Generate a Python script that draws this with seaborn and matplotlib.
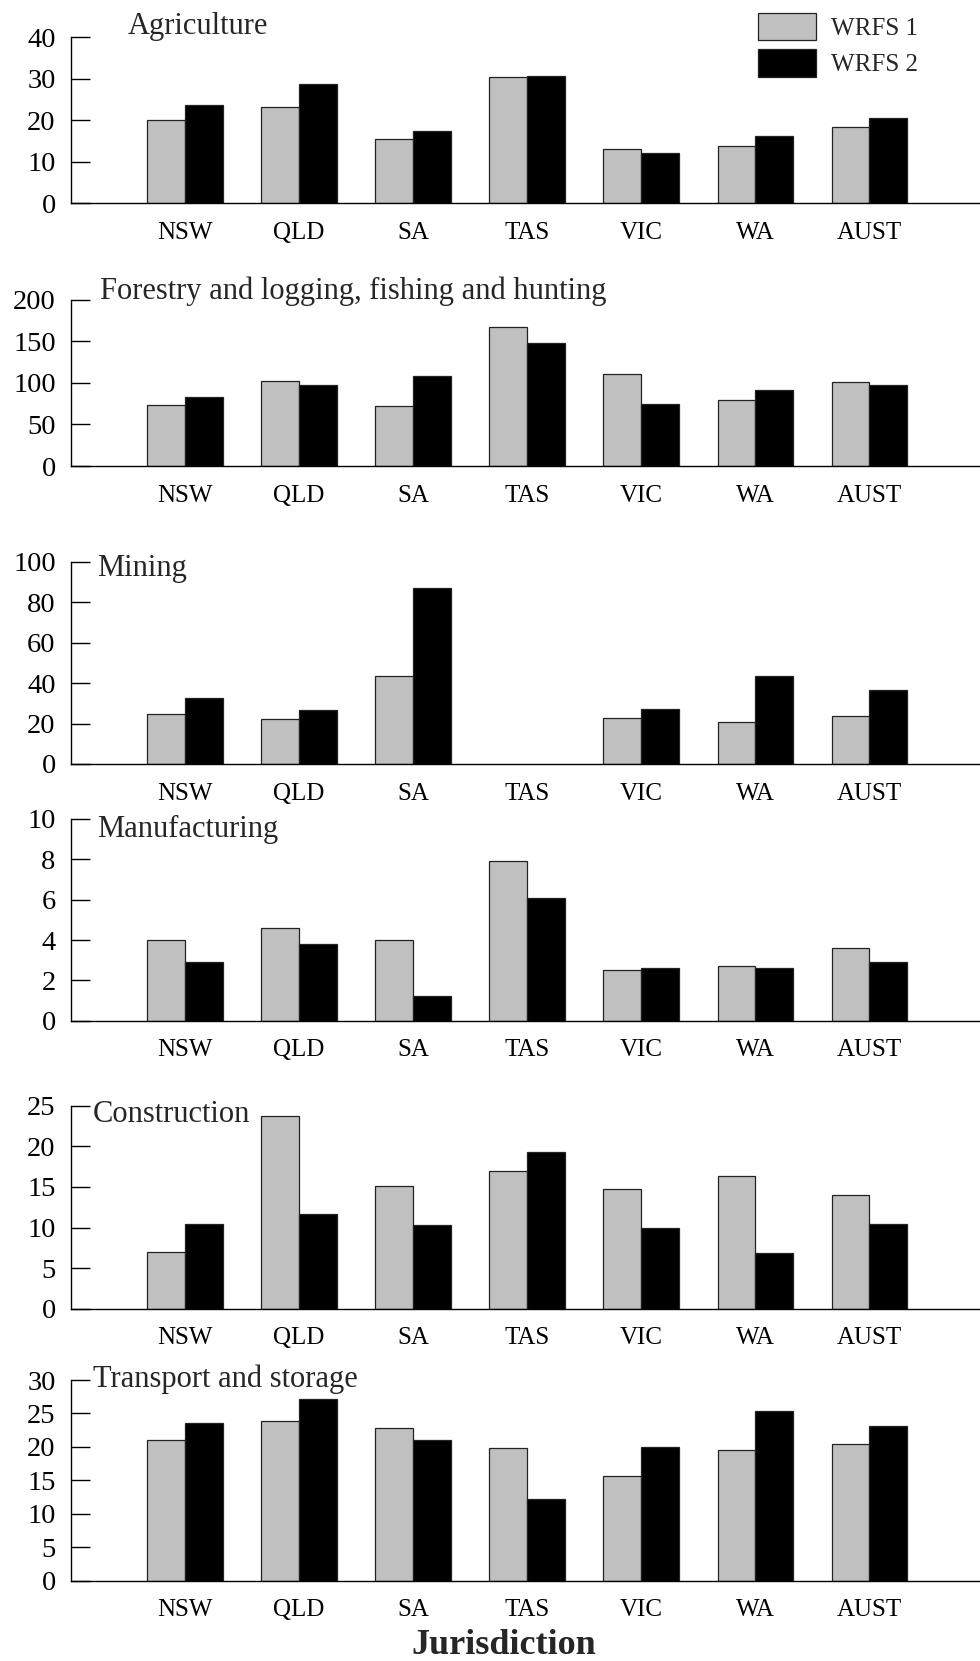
import matplotlib
matplotlib.use("Agg")
import matplotlib.pyplot as plt
import numpy as np
import pandas as pd
import seaborn as sns

# Jurisdictions along the x axis and the two survey waves
states = ["NSW", "QLD", "SA", "TAS", "VIC", "WA", "AUST"]
series = ["WRFS 1", "WRFS 2"]

# Values per industry (WRFS 1, WRFS 2), one entry per jurisdiction
agriculture_w1 = [20.0, 23.2, 15.5, 30.5, 13.0, 13.7, 18.4]
agriculture_w2 = [23.6, 28.8, 17.4, 30.6, 12.1, 16.1, 20.6]

forestry_w1 = [74.0, 103.0, 72.0, 168.0, 111.0, 80.0, 101.5]
forestry_w2 = [83.0, 98.0, 108.0, 148.5, 75.0, 92.0, 97.0]

mining_w1 = [24.6, 22.1, 43.7, np.nan, 22.8, 20.8, 23.6]
mining_w2 = [32.5, 26.6, 87.3, np.nan, 27.4, 43.6, 36.6]

manufacturing_w1 = [4.0, 4.6, 4.0, 7.9, 2.5, 2.7, 3.6]
manufacturing_w2 = [2.9, 3.8, 1.2, 6.1, 2.6, 2.6, 2.9]

construction_w1 = [7.0, 23.7, 15.1, 17.0, 14.7, 16.4, 14.0]
construction_w2 = [10.4, 11.7, 10.3, 19.3, 10.0, 6.8, 10.4]

transport_w1 = [21.0, 23.8, 22.8, 19.8, 15.7, 19.5, 20.4]
transport_w2 = [23.5, 27.1, 21.0, 12.2, 20.0, 25.4, 23.1]

titles = ["Agriculture",
          "Forestry and logging, fishing and hunting",
          "Mining",
          "Manufacturing",
          "Construction",
          "Transport and storage"]
y_max = [40, 200, 100, 10, 25, 30]
y_step = [10, 50, 20, 2, 5, 5]

panels = [
    (agriculture_w1, agriculture_w2),
    (forestry_w1, forestry_w2),
    (mining_w1, mining_w2),
    (manufacturing_w1, manufacturing_w2),
    (construction_w1, construction_w2),
    (transport_w1, transport_w2),
]

sns.set_style("ticks")
plt.rcParams["font.family"] = ["Liberation Serif", "DejaVu Serif"]

W, H = 980, 1661
fig = plt.figure(figsize=(W / 100, H / 100), dpi=100)

# Pixel extents of each panel: (top of y axis, zero line)
extents = [(37.3, 203.3), (300, 466), (562, 764),
           (819, 1020.7), (1105.7, 1308.7), (1380, 1580.7)]
# Title anchors: (left x, baseline y) in pixels
title_pos = [(128, 34), (100, 299), (97, 576),
             (97, 836.7), (92.5, 1121.7), (93, 1387.3)]

left_px = 71
palette = {"WRFS 1": "#c0c0c0", "WRFS 2": "#000000"}

for i, ((w1, w2), title) in enumerate(zip(panels, titles)):
    top, zero = extents[i]
    ax = fig.add_axes([left_px / W, 1 - zero / H,
                       (W - left_px) / W, (zero - top) / H])
    df = pd.DataFrame({
        "Jurisdiction": states * 2,
        "Value": list(w1) + list(w2),
        "Series": [series[0]] * len(states) + [series[1]] * len(states),
    })
    sns.barplot(data=df, x="Jurisdiction", y="Value", hue="Series",
                order=states, hue_order=series, palette=palette,
                width=0.663, edgecolor="#222222", linewidth=0.9,
                errorbar=None, legend=(i == 0), ax=ax)
    ax.set_xlim(-1.0, 6.97)
    ax.set_ylim(0, y_max[i])
    ax.set_yticks(np.arange(0, y_max[i] + 0.001, y_step[i]))
    ax.set_yticklabels([f"{int(v)}" for v in ax.get_yticks()])
    ax.set_xlabel("")
    ax.set_ylabel("")
    for s in ["top", "right"]:
        ax.spines[s].set_visible(False)
    for s in ["left", "bottom"]:
        ax.spines[s].set_linewidth(1.0)
        ax.spines[s].set_color("black")
    ax.tick_params(axis="y", direction="in", length=14, width=1.0,
                   pad=11, labelsize=20.5, colors="black")
    ax.tick_params(axis="x", length=0, pad=13.5, labelsize=18,
                   colors="black")
    ax.set_facecolor("none")
    fig.text(title_pos[i][0] / W, 1 - title_pos[i][1] / H, title,
             fontsize=22, va="baseline", ha="left")

    if i == 0:
        handles, labels = ax.get_legend_handles_labels()
        ax.legend(handles, labels, loc="upper left",
                  bbox_to_anchor=(758 / W, 1 - 13 / H),
                  bbox_transform=fig.transFigure, frameon=False,
                  fontsize=18, handlelength=2.32, handleheight=1.3,
                  labelspacing=0.36, handletextpad=0.6,
                  borderpad=0, borderaxespad=0)

fig.text(504 / W, 1 - 1654 / H, "Jurisdiction", fontsize=26,
         fontweight="bold", ha="center", va="baseline")

fig.savefig("out.png", dpi=100, facecolor="white")
